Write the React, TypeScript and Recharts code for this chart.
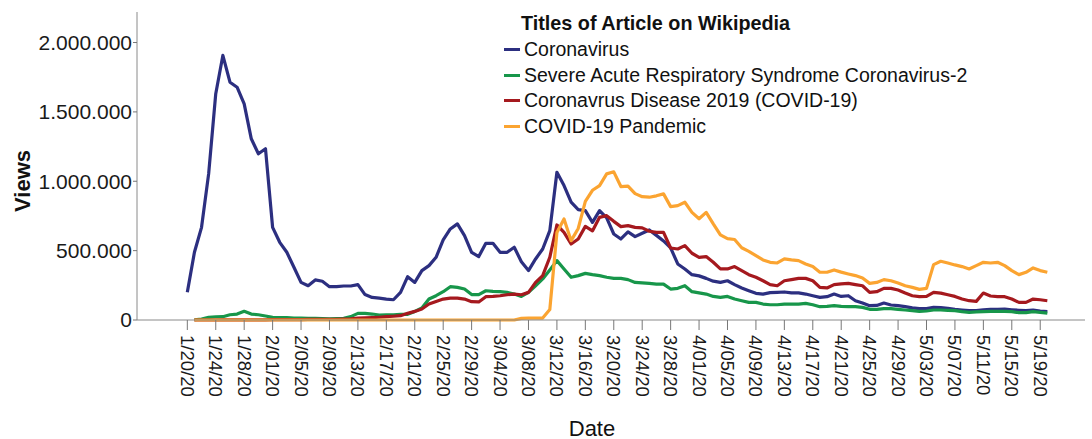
import React from "react";
import { LineChart, Line, XAxis, YAxis } from "recharts";

// Day index 0 = 1/20/20 ... 121 = 5/21/20
const TICK_DAYS = [0, 4, 8, 12, 16, 20, 24, 28, 32, 36, 40, 44, 48, 52, 56, 60, 64, 68, 72, 76, 80, 84, 88, 92, 96, 100, 104, 108, 112, 116, 120];
const TICK_LABELS = ["1/20/20", "1/24/20", "1/28/20", "2/01/20", "2/05/20", "2/09/20", "2/13/20", "2/17/20", "2/21/20", "2/25/20", "2/29/20", "3/04/20", "3/08/20", "3/12/20", "3/16/20", "3/20/20", "3/24/20", "3/28/20", "4/01/20", "4/05/20", "4/09/20", "4/13/20", "4/17/20", "4/21/20", "4/25/20", "4/29/20", "5/03/20", "5/07/20", "5/11/20", "5/15/20", "5/19/20"];
const Y_TICKS = [0, 500000, 1000000, 1500000, 2000000];

const CORONAVIRUS = [
  200000, 488000, 668000, 1053000, 1631000, 1907000, 1714000, 1678000, 1558000, 1306000,
  1198000, 1234000, 668000, 560000, 488000, 380000, 271000, 247000, 289000, 279000,
  240000, 240000, 245000, 245000, 255000, 183000, 163000, 158000, 151000, 146000,
  199000, 312000, 271000, 356000, 392000, 452000, 577000, 656000, 693000, 608000,
  488000, 457000, 553000, 553000, 488000, 488000, 524000, 420000, 356000, 440000,
  512000, 644000, 1065000, 969000, 849000, 796000, 788000, 704000, 788000, 736000,
  620000, 584000, 635000, 601000, 625000, 649000, 610000, 570000, 520000, 404000,
  368000, 327000, 318000, 300000, 280000, 271000, 283000, 255000, 231000, 211000,
  192000, 187000, 197000, 199000, 202000, 195000, 195000, 187000, 175000, 163000,
  168000, 187000, 170000, 175000, 139000, 122000, 103000, 105000, 122000, 108000,
  103000, 96000, 87000, 82000, 82000, 91000, 89000, 84000, 77000, 72000,
  67000, 67000, 74000, 77000, 77000, 79000, 74000, 70000, 67000, 72000,
  65000, 60000,
];

const SARS_COV_2 = [
  null, 2000, 7000, 19000, 22000, 24000, 38000, 43000, 63000, 43000,
  38000, 29000, 19000, 17000, 17000, 14000, 14000, 12000, 12000, 10000,
  8000, 10000, 12000, 24000, 48000, 48000, 43000, 36000, 38000, 38000,
  41000, 41000, 62000, 86000, 151000, 175000, 204000, 240000, 235000, 223000,
  183000, 183000, 211000, 206000, 204000, 199000, 187000, 170000, 199000, 247000,
  296000, 361000, 428000, 368000, 308000, 320000, 336000, 327000, 320000, 308000,
  300000, 300000, 291000, 271000, 267000, 264000, 259000, 259000, 223000, 228000,
  247000, 204000, 195000, 187000, 170000, 163000, 170000, 151000, 139000, 127000,
  127000, 115000, 110000, 110000, 115000, 115000, 115000, 120000, 110000, 96000,
  98000, 103000, 98000, 96000, 96000, 91000, 77000, 77000, 82000, 82000,
  77000, 72000, 67000, 62000, 65000, 72000, 72000, 70000, 67000, 60000,
  55000, 58000, 60000, 62000, 62000, 62000, 60000, 53000, 53000, 60000,
  55000, 50000,
];

const COVID_19_DISEASE = [
  null, 0, 0, 0, 0, 1000, 1000, 1000, 1000, 1000,
  1000, 1000, 2000, 2000, 3000, 3000, 3000, 4000, 4000, 4000,
  4000, 5000, 6000, 8000, 14000, 15000, 17000, 20000, 24000, 27000,
  31000, 48000, 62000, 79000, 115000, 134000, 151000, 158000, 158000, 151000,
  132000, 130000, 168000, 170000, 175000, 182000, 187000, 182000, 199000, 271000,
  320000, 452000, 685000, 632000, 548000, 584000, 675000, 642000, 740000, 752000,
  711000, 673000, 680000, 668000, 664000, 640000, 632000, 632000, 519000, 512000,
  536000, 481000, 452000, 457000, 416000, 368000, 368000, 385000, 356000, 327000,
  308000, 283000, 255000, 247000, 283000, 291000, 300000, 300000, 283000, 235000,
  231000, 255000, 260000, 264000, 255000, 247000, 199000, 204000, 228000, 228000,
  216000, 194000, 175000, 168000, 170000, 199000, 194000, 182000, 170000, 151000,
  139000, 134000, 194000, 173000, 168000, 168000, 151000, 127000, 127000, 151000,
  146000, 139000,
];

const COVID_19_PANDEMIC = [
  null, 0, 0, 0, 0, 0, 0, 0, 0, 0,
  0, 0, 0, 0, 0, 0, 0, 0, 0, 0,
  0, 0, 0, 0, 0, 0, 0, 0, 0, 0,
  0, 0, 0, 0, 0, 0, 0, 0, 0, 0,
  0, 0, 0, 0, 0, 0, 0, 12000, 14000, 14000,
  14000, 75000, 630000, 728000, 572000, 660000, 855000, 935000, 969000, 1053000,
  1068000, 962000, 965000, 911000, 889000, 885000, 895000, 909000, 817000, 824000,
  849000, 776000, 730000, 776000, 693000, 614000, 586000, 580000, 521000, 495000,
  464000, 433000, 416000, 411000, 440000, 433000, 428000, 404000, 385000, 344000,
  344000, 361000, 345000, 332000, 320000, 303000, 264000, 271000, 291000, 283000,
  267000, 247000, 235000, 221000, 228000, 399000, 423000, 411000, 397000, 385000,
  368000, 392000, 416000, 411000, 416000, 392000, 356000, 327000, 344000, 375000,
  356000, 344000,
];

const SERIES = [
  { key: "coronavirus", name: "Coronavirus", color: "#2c2f80", values: CORONAVIRUS },
  { key: "sars", name: "Severe Acute Respiratory Syndrome Coronavirus-2", color: "#17964a", values: SARS_COV_2 },
  { key: "disease", name: "Coronavrus Disease 2019 (COVID-19)", color: "#a5191e", values: COVID_19_DISEASE },
  { key: "pandemic", name: "COVID-19 Pandemic", color: "#fba431", values: COVID_19_PANDEMIC },
];

const data = CORONAVIRUS.map((_, i) => {
  const row: Record<string, number | null> = { day: i };
  SERIES.forEach((s) => {
    row[s.key] = s.values[i];
  });
  return row;
});

const FONT = '"Liberation Sans", Arial, Helvetica, sans-serif';

const fmtY = (v: number) => String(v).replace(/\B(?=(\d{3})+(?!\d))/g, ".");

const DateTick = (props: any) => {
  const { x, y, payload } = props;
  const idx = TICK_DAYS.indexOf(payload.value);
  const label = idx >= 0 ? TICK_LABELS[idx] : "";
  return (
    <text
      x={x}
      y={y}
      transform={`rotate(90, ${x}, ${y})`}
      textAnchor="start"
      dominantBaseline="central"
      fontSize={18.5}
      fontFamily={FONT}
      fill="#1a1a1a"
    >
      {label}
    </text>
  );
};

const YLabel = () => (
  <text
    x={22}
    y={181}
    transform="rotate(-90, 22, 181)"
    textAnchor="middle"
    dominantBaseline="central"
    fontSize={22}
    fontWeight="bold"
    fontFamily={FONT}
    fill="#111"
  >
    Views
  </text>
);

const XLabel = () => (
  <text
    x={592}
    y={428}
    textAnchor="middle"
    dominantBaseline="central"
    fontSize={22}
    fontFamily={FONT}
    fill="#111"
  >
    Date
  </text>
);

export default function App() {
  return (
    <div style={{ position: "absolute", left: 0, top: 0, width: 1092, height: 439, background: "#fff" }}>
      <LineChart width={1092} height={439} data={data} margin={{ top: 12, right: 7, bottom: 0, left: 0 }}>
        <XAxis
          dataKey="day"
          type="number"
          domain={[-7.08, 126.3]}
          ticks={TICK_DAYS}
          interval={0}
          height={119}
          tick={<DateTick />}
          tickSize={10}
          tickMargin={5}
          stroke="#8a8a8a"
          axisLine={{ stroke: "#8a8a8a" }}
          tickLine={{ stroke: "#777" }}
          label={{ content: () => <XLabel /> }}
        />
        <YAxis
          type="number"
          domain={[0, 2220000]}
          ticks={Y_TICKS}
          interval={0}
          width={137}
          tickFormatter={fmtY}
          tickSize={4}
          tickMargin={1}
          tick={{ fontSize: 21, fontFamily: FONT, fill: "#1a1a1a" }}
          axisLine={{ stroke: "#8a8a8a" }}
          tickLine={{ stroke: "#777" }}
          label={{ content: () => <YLabel /> }}
        />
        {SERIES.map((s) => (
          <Line
            key={s.key}
            type="linear"
            dataKey={s.key}
            name={s.name}
            stroke={s.color}
            strokeWidth={3.2}
            dot={false}
            activeDot={false}
            strokeLinejoin="round"
            isAnimationActive={false}
          />
        ))}
      </LineChart>
      <div
        style={{
          position: "absolute",
          left: 504,
          top: 10,
          fontFamily: FONT,
          color: "#111",
          pointerEvents: "none",
        }}
      >
        <div style={{ fontWeight: "bold", fontSize: 19.8, lineHeight: "27px", paddingLeft: 17, whiteSpace: "nowrap" }}>
          Titles of Article on Wikipedia
        </div>
        {SERIES.map((s) => (
          <div key={s.key} style={{ display: "flex", alignItems: "center", height: 25.5, whiteSpace: "nowrap" }}>
            <span style={{ display: "inline-block", width: 16, height: 3, background: s.color, marginRight: 4 }} />
            <span style={{ fontSize: 19.5, lineHeight: "25.5px" }}>{s.name}</span>
          </div>
        ))}
      </div>
    </div>
  );
}
